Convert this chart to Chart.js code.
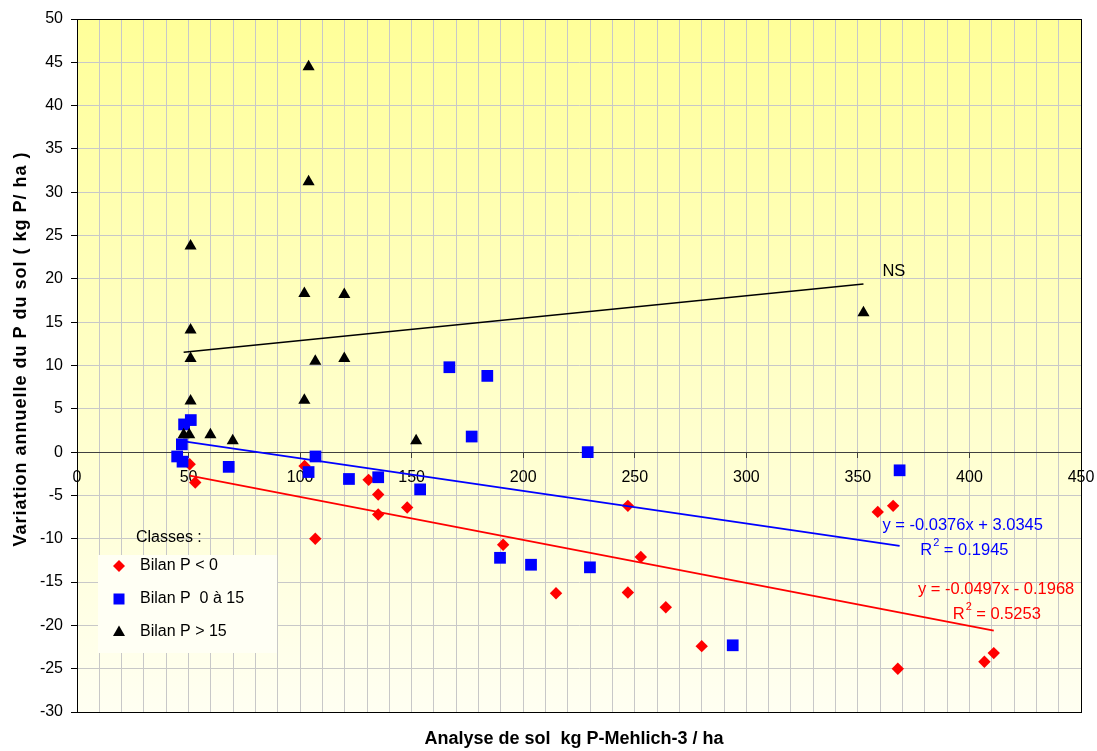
<!DOCTYPE html>
<html>
<head>
<meta charset="utf-8">
<script src="https://cdn.jsdelivr.net/npm/chart.js@4.4.1/dist/chart.umd.min.js"></script>
<style>
  html, body { margin: 0; padding: 0; background: #fff; }
</style>
</head>
<body>
<canvas id="chart" width="1097" height="751"></canvas>
<script>
// Bilan P < 0
const redX = [50.5, 53.0, 102.0, 106.8, 130.7, 135.0, 135.0, 148.0, 191.0, 214.7, 246.9, 252.7, 246.9, 263.9, 280.0, 358.9, 365.8, 367.9, 406.7, 410.9];
const redY = [-1.4, -3.5, -1.6, -10.0, -3.2, -4.9, -7.2, -6.4, -10.7, -16.3, -6.2, -12.1, -16.2, -17.9, -22.4, -6.9, -6.2, -25.0, -24.2, -23.2];

// Bilan P 0 a 15
const blueX = [48.0, 51.0, 47.0, 44.9, 47.3, 68.0, 103.8, 106.9, 121.9, 135.0, 153.8, 166.9, 183.9, 176.9, 228.9, 189.6, 203.5, 229.9, 293.9, 368.7];
const blueY = [3.2, 3.7, 0.9, -0.5, -1.1, -1.7, -2.3, -0.5, -3.1, -2.9, -4.3, 9.8, 8.8, 1.8, 0.0, -12.2, -13.0, -13.3, -22.3, -2.1];

// Bilan P > 15
const blackX = [103.8, 103.8, 50.9, 50.9, 50.9, 50.9, 47.8, 50.3, 59.8, 69.8, 152.0, 101.9, 101.9, 106.8, 119.8, 119.8, 352.5];
const blackY = [44.5, 31.2, 23.8, 14.1, 10.8, 5.9, 2.0, 2.0, 2.0, 1.3, 1.3, 6.0, 18.3, 10.5, 18.2, 10.8, 16.1];

// trendline coefficients shown on the chart
const redFit = { slope: -0.0497, intercept: -0.1968 };
const blueFit = { slope: -0.0376, intercept: 3.0345 };

const legendLabels = ['Bilan P < 0', 'Bilan P  0 \u00e0 15', 'Bilan P > 15'];
const xTitle = 'Analyse de sol  kg P-Mehlich-3 / ha';
const yTitle = 'Variation annuelle du P du sol ( kg P/ ha )';

const FONT = 'Arial, "Liberation Sans", sans-serif';
Chart.defaults.font.family = FONT;
Chart.defaults.color = '#000';

function pts(xs, ys) {
    return xs.map((x, i) => ({ x: x, y: ys[i] }));
}

function fitLine(xs, fit) {
    const lo = Math.min(...xs), hi = Math.max(...xs);
    return [lo, hi].map(x => ({ x: x, y: fit.slope * x + fit.intercept }));
}

// least squares for the black group (no equation printed, only NS)
function leastSquares(xs, ys) {
    const n = xs.length;
    const mx = xs.reduce((a, b) => a + b, 0) / n;
    const my = ys.reduce((a, b) => a + b, 0) / n;
    let sxy = 0, sxx = 0;
    xs.forEach((x, i) => { sxy += (x - mx) * (ys[i] - my); sxx += (x - mx) * (x - mx); });
    const slope = sxy / sxx;
    return { slope: slope, intercept: my - slope * mx };
}
const blackFit = leastSquares(blackX, blackY);

function drawMarker(ctx, style, x, y, color) {
    ctx.save();
    ctx.fillStyle = color;
    ctx.beginPath();
    if (style === 'rectRot') {
        ctx.moveTo(x - 6, y); ctx.lineTo(x, y - 6); ctx.lineTo(x + 6, y); ctx.lineTo(x, y + 6);
    } else if (style === 'rect') {
        ctx.rect(x - 5.5, y - 5.5, 11, 11);
    } else {
        ctx.moveTo(x, y - 6.5); ctx.lineTo(x + 6, y + 4); ctx.lineTo(x - 6, y + 4);
    }
    ctx.closePath();
    ctx.fill();
    ctx.restore();
}

const decor = {
    id: 'decor',
    beforeDraw(chart) {
        const { ctx, chartArea: a } = chart;
        const g = ctx.createLinearGradient(0, a.top, 0, a.bottom);
        g.addColorStop(0, '#FFFF99');
        g.addColorStop(1, '#FFFFF2');
        ctx.save();
        ctx.fillStyle = g;
        ctx.fillRect(a.left, a.top, a.right - a.left, a.bottom - a.top);
        ctx.restore();
    },
    beforeDatasetsDraw(chart) {
        const { ctx, chartArea: a } = chart;
        ctx.save();
        ctx.strokeStyle = '#000';
        ctx.lineWidth = 1;
        ctx.strokeRect(Math.round(a.left) + 0.5, Math.round(a.top) + 0.5, Math.round(a.right - a.left), Math.round(a.bottom - a.top));

        // legend box
        const lx = a.left + 21, ly = a.top + 536;
        ctx.fillStyle = '#FFFFF4';
        ctx.fillRect(lx, ly, 179, 98);
        ctx.font = '16px ' + FONT;
        ctx.textBaseline = 'middle';
        ctx.fillStyle = '#000';
        ctx.fillText('Classes :', a.left + 59, a.top + 519);
        const styles = ['rectRot', 'rect', 'triangle'];
        const colors = ['#FF0000', '#0000FF', '#000000'];
        legendLabels.forEach((t, i) => {
            const yy = ly + 11 + i * 33;
            drawMarker(ctx, styles[i], lx + 21, yy, colors[i]);
            ctx.fillStyle = '#000';
            ctx.fillText(t, lx + 42, yy);
        });
        ctx.restore();
    },
    afterDraw(chart) {
        const { ctx, scales: { x, y } } = chart;
        ctx.save();
        ctx.textBaseline = 'middle';
        const f = '16.5px ' + FONT;
        ctx.font = f;

        ctx.fillStyle = '#000';
        ctx.fillText('NS', x.getPixelForValue(361), y.getPixelForValue(20.9));

        const rsq = (color, px, py, val) => {
            ctx.fillStyle = color;
            ctx.fillText('R', px, py);
            const w = ctx.measureText('R').width;
            ctx.font = '11px ' + FONT;
            ctx.fillText('2', px + w + 1, py - 7);
            ctx.font = f;
            ctx.fillText(' = ' + val, px + w + 7, py);
        };

        ctx.fillStyle = '#0000FF';
        ctx.fillText('y = -0.0376x + 3.0345', x.getPixelForValue(361), y.getPixelForValue(-8.5));
        rsq('#0000FF', x.getPixelForValue(378), y.getPixelForValue(-11.3), '0.1945');

        ctx.fillStyle = '#FF0000';
        ctx.fillText('y = -0.0497x - 0.1968', x.getPixelForValue(376.9), y.getPixelForValue(-15.85));
        rsq('#FF0000', x.getPixelForValue(392.5), y.getPixelForValue(-18.7), '0.5253');

        // axis titles
        ctx.fillStyle = '#000';
        ctx.font = 'bold 18px ' + FONT;
        ctx.textAlign = 'center';
        ctx.fillText(xTitle, 574, 739);
        ctx.translate(21, 349);
        ctx.rotate(-Math.PI / 2);
        ctx.letterSpacing = '1px';
        ctx.fillText(yTitle, 0, 0);
        ctx.restore();
    }
};

const ctx = document.getElementById('chart').getContext('2d');

new Chart(ctx, {
    type: 'scatter',
    data: {
        datasets: [
            {
                type: 'line', label: 'fit P > 15', data: fitLine(blackX, blackFit),
                borderColor: '#000000', borderWidth: 1.6, pointRadius: 0, fill: false
            },
            {
                type: 'line', label: 'fit 0 a 15', data: fitLine(blueX, blueFit),
                borderColor: '#0000FF', borderWidth: 1.8, pointRadius: 0, fill: false
            },
            {
                type: 'line', label: 'fit < 0', data: fitLine(redX, redFit),
                borderColor: '#FF0000', borderWidth: 1.8, pointRadius: 0, fill: false
            },
            {
                label: legendLabels[2], data: pts(blackX, blackY),
                pointStyle: 'triangle', pointRadius: 7, pointHoverRadius: 7,
                backgroundColor: '#000000', borderColor: '#000000', borderWidth: 0
            },
            {
                label: legendLabels[1], data: pts(blueX, blueY),
                pointStyle: 'rect', pointRadius: 8.3, pointHoverRadius: 8.3,
                backgroundColor: '#0000FF', borderColor: '#0000FF', borderWidth: 0
            },
            {
                label: legendLabels[0], data: pts(redX, redY),
                pointStyle: 'rectRot', pointRadius: 6.2, pointHoverRadius: 6.2,
                backgroundColor: '#FF0000', borderColor: '#FF0000', borderWidth: 0
            }
        ]
    },
    options: {
        responsive: false,
        animation: false,
        layout: { padding: { top: 19, right: 16, bottom: 39, left: 0 } },
        plugins: {
            legend: { display: false },
            tooltip: { enabled: false }
        },
        scales: {
            x: {
                type: 'linear',
                min: 0, max: 450,
                position: { y: 0 },
                ticks: {
                    stepSize: 10, autoSkip: false, maxRotation: 0,
                    padding: 11, font: { size: 16 },
                    callback: (val) => val % 50 === 0 ? val : ''
                },
                grid: {
                    color: '#C8C8C8', tickLength: 5,
                    tickColor: (c) => c.tick && c.tick.value % 50 === 0 ? '#404040' : 'rgba(0,0,0,0)'
                },
                border: { color: '#404040' },
                afterFit: (scale) => { scale.paddingLeft = 0; scale.paddingRight = 0; }
            },
            y: {
                type: 'linear',
                min: -30, max: 50,
                ticks: { stepSize: 5, padding: 8, font: { size: 16 } },
                grid: { color: '#C8C8C8', tickLength: 6, tickColor: '#000' },
                border: { color: '#000' },
                afterFit: (scale) => { scale.width = 77; }
            }
        }
    },
    plugins: [decor]
});
</script>
</body>
</html>
